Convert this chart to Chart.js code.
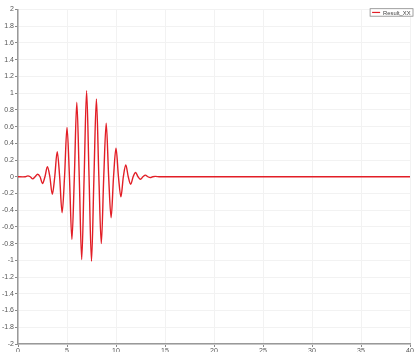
<!DOCTYPE html>
<html>
<head>
<meta charset="utf-8">
<script src="https://cdn.jsdelivr.net/npm/chart.js@4/dist/chart.umd.min.js"></script>
<style>
  html, body { margin: 0; padding: 0; background: #fff; overflow: hidden; }
  #wrap { width: 414px; height: 352px; position: relative; }
</style>
</head>
<body>
<div id="wrap"><canvas id="chart"></canvas></div>
<script>
// Series label and colour
const seriesName = 'Result_XX';
const seriesColor = 'rgb(226,30,38)';

// Sampled response: peaks, troughs and crossings of the wave packet, then flat to the end
const waveX = [
  0, 0.5, 0.75, 1, 1.25, 1.5, 1.75, 2, 2.25, 2.5, 2.75,
  3, 3.25, 3.5, 3.75, 4, 4.25, 4.5, 4.75, 5, 5.25, 5.5, 5.75,
  6, 6.25, 6.5, 6.75, 7, 7.25, 7.5, 7.75, 8, 8.25, 8.5, 8.75,
  9, 9.25, 9.5, 9.75, 10, 10.25, 10.5, 10.75, 11, 11.25, 11.5, 11.75,
  12, 12.25, 12.5, 12.75, 13, 13.25, 13.5, 13.75, 14, 14.5, 40
];
const waveY = [
  0, -0.002, 0, 0.01, 0, -0.025, 0, 0.03, 0, -0.08, 0,
  0.12, 0, -0.21, 0, 0.30, 0, -0.43, 0, 0.59, 0, -0.75, 0,
  0.89, 0, -0.99, 0, 1.03, 0, -1.01, 0, 0.93, 0, -0.80, 0,
  0.64, 0, -0.49, 0, 0.34, 0, -0.24, 0, 0.14, 0, -0.09, 0,
  0.05, 0, -0.03, 0, 0.02, 0, -0.01, 0, 0.004, 0, 0
];

// Axis ranges and tick steps
const xRange = [0, 40];
const xStep = 5;
const yRange = [-2, 2];
const yStep = 0.2;

const points = waveX.map((x, i) => ({ x: x, y: waveY[i] }));

// Framed legend in the top-right corner
const framedLegend = {
  id: 'framedLegend',
  afterDraw(chart) {
    const { ctx, chartArea } = chart;
    const ds = chart.data.datasets[0];
    ctx.save();
    ctx.font = '5.8px "Liberation Sans", Arial, sans-serif';
    const tw = ctx.measureText(ds.label).width;
    const lineLen = 8, gap = 3, padL = 2.5, padR = 3;
    const w = padL + lineLen + gap + tw + padR;
    const h = 8.5;
    const x0 = chartArea.right + 3.5 - w;
    const y0 = chartArea.top - 1.3;
    ctx.fillStyle = '#fff';
    ctx.fillRect(x0, y0, w, h);
    ctx.strokeStyle = '#888';
    ctx.lineWidth = 0.8;
    ctx.strokeRect(x0 + 0.5, y0 + 0.5, w - 1, h - 1);
    ctx.strokeStyle = ds.borderColor;
    ctx.lineWidth = 1.2;
    ctx.beginPath();
    ctx.moveTo(x0 + padL, y0 + h / 2);
    ctx.lineTo(x0 + padL + lineLen, y0 + h / 2);
    ctx.stroke();
    ctx.fillStyle = '#444';
    ctx.textBaseline = 'middle';
    ctx.fillText(ds.label, x0 + padL + lineLen + gap, y0 + h / 2 + 0.5);
    ctx.restore();
  }
};

const tickFont = { family: '"Liberation Sans", Arial, sans-serif', size: 7 };

new Chart(document.getElementById('chart'), {
  type: 'line',
  data: {
    datasets: [{
      label: seriesName,
      data: points,
      borderColor: seriesColor,
      borderWidth: 1.4,
      pointRadius: 0,
      fill: false,
      cubicInterpolationMode: 'monotone'
    }]
  },
  options: {
    responsive: true,
    maintainAspectRatio: false,
    animation: false,
    layout: { padding: { top: 9.5, right: 4, left: 0, bottom: 0 } },
    plugins: { legend: { display: false }, tooltip: { enabled: false } },
    scales: {
      x: {
        type: 'linear',
        min: xRange[0], max: xRange[1],
        ticks: { stepSize: xStep, color: '#555', font: tickFont, padding: 0, maxRotation: 0 },
        grid: { color: '#f2f2f2', tickColor: '#888', tickLength: 3, lineWidth: 1 },
        border: { color: '#999', width: 1.5 },
        afterFit(scale) { scale.height = 8; }
      },
      y: {
        type: 'linear',
        min: yRange[0], max: yRange[1],
        ticks: {
          stepSize: yStep, color: '#555', font: tickFont, padding: 1,
          callback: (v) => String(Number(v.toFixed(1)))
        },
        grid: { color: '#f2f2f2', tickColor: '#888', tickLength: 3, lineWidth: 1 },
        border: { color: '#999', width: 1.5 },
        afterFit(scale) { scale.width = 18; }
      }
    }
  },
  plugins: [framedLegend]
});
</script>
</body>
</html>
